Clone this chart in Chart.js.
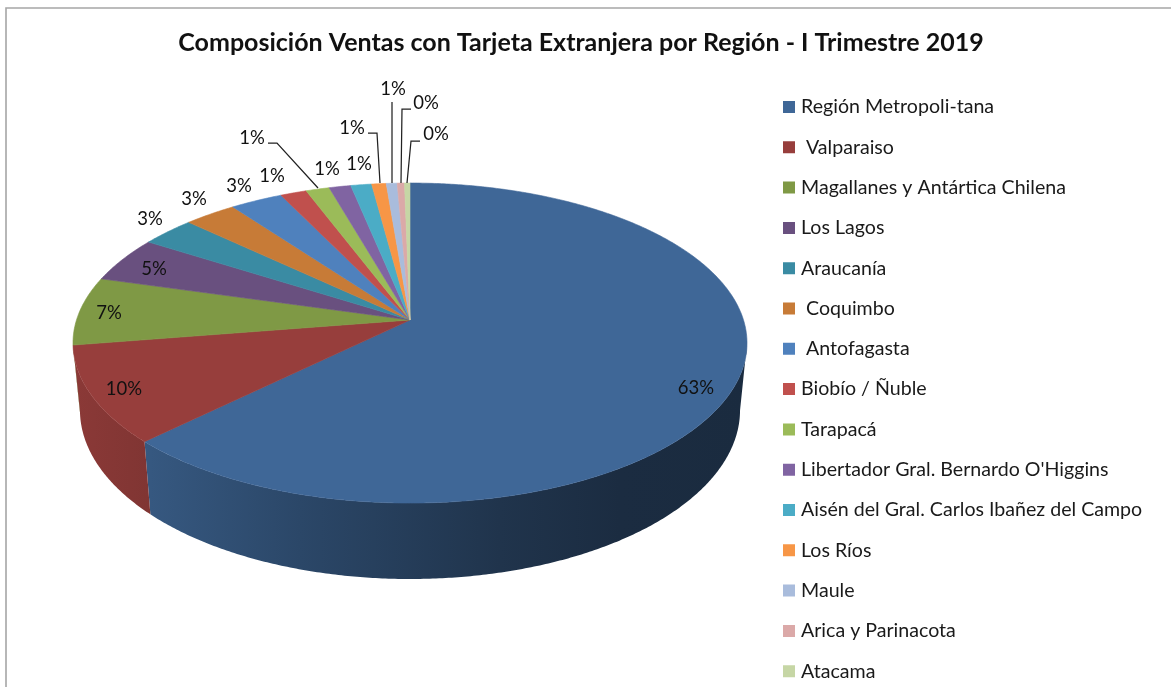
<!DOCTYPE html>
<html>
<head>
<meta charset="utf-8">
<style>html,body{margin:0;padding:0;background:#fff;overflow:hidden}canvas{display:block}</style>
<script src="https://cdn.jsdelivr.net/npm/chart.js@4"></script>
</head>
<body>
<canvas id="c" width="1171" height="687"></canvas>
<script>
const chartTitle = 'Composición Ventas con Tarjeta Extranjera por Región - I Trimestre 2019';
const regions = ['Región Metropoli-tana',' Valparaiso','Magallanes y Antártica Chilena','Los Lagos','Araucanía',' Coquimbo',' Antofagasta','Biobío / Ñuble','Tarapacá',"Libertador Gral. Bernardo O'Higgins",'Aisén del Gral. Carlos Ibañez del Campo','Los Ríos','Maule','Arica y Parinacota','Atacama'];
const shares = [62.7,9.8,6.9,4.6,3.0,2.9,2.9,1.45,1.3,1.2,1.15,0.8,0.6,0.4,0.3];
const colors = ['#3f6797','#973e3c','#7f9945','#69507f','#3a8ba3','#c77b37','#4f81bd','#c0504d','#9bbb59','#8064a2','#4bacc6','#f79646','#a9bcdc','#dba9a8','#c6d6a5'];

// Layout of the 3D projection (top face and bottom rim of the pie)
const topFace = {cx:410, cy:320, A:333.5, a:156.7, b:0.144};
const bottomRim = {cx:410, cy:386, A:326.7, a:165.6, b:0.142};
// Label anchors [text x, text y] and optional leader-line points, by slice
const labelLayout = [
 {p:[696,388]},{p:[124,389]},{p:[109,313]},{p:[154,269]},{p:[150,219]},{p:[194,199]},{p:[239,186]},{p:[272,176]},
 {p:[252,138],l:[[268,143],[277,143],[318,188]]},
 {p:[327,169]},{p:[359,164]},
 {p:[352,128],l:[[368,133],[377,133],[380,183]]},
 {p:[393,89],l:[[392,102],[392,183]]},
 {p:[426,103],l:[[411,109],[402,109],[401,183]]},
 {p:[436,134],l:[[420,141],[411,141],[407,183]]}
];
const legendBox = {left:766.1, top:76.5};
const shadeStops = [[73,.92],[150,.85],[300,.69],[500,.5],[620,.43],[748,.42]];

function project(g, th){
  const d = 1 + g.b*Math.cos(th);
  return [g.cx + g.A*Math.sin(th)/d, g.cy - g.a*Math.cos(th)/d];
}
function rgb(h){return [1,3,5].map(i=>parseInt(h.substr(i,2),16));}

const pie3d = {
  id:'pie3d',
  afterLayout(chart){
    const lg = chart.legend, w = lg.width, h = lg.height;
    lg.left = legendBox.left; lg.right = legendBox.left + w;
    lg.top = legendBox.top; lg.bottom = legendBox.top + h;
    lg.adjustHitBoxes();
  },
  beforeDraw(chart){
    const c = chart.ctx;
    c.save();
    c.strokeStyle='#a6a6a6'; c.lineWidth=1.6;
    c.beginPath(); c.moveTo(6,687); c.lineTo(6,8); c.lineTo(1171,8); c.stroke();
    c.restore();
  },
  beforeDatasetDraw(chart,args){
    const c = chart.ctx, arcs = args.meta.data;
    const toTheta = a => a + Math.PI/2;
    const wallFrom = Math.acos(-topFace.b), wallTo = 2*Math.PI - wallFrom;
    // side walls
    arcs.forEach((arc,i)=>{
      const s = Math.max(toTheta(arc.startAngle), wallFrom), e = Math.min(toTheta(arc.endAngle), wallTo);
      if(e<=s) return;
      const base = rgb(colors[i]);
      const grad = c.createLinearGradient(73,0,748,0);
      shadeStops.forEach(([x,f])=>grad.addColorStop((x-73)/675,`rgb(${base.map(v=>Math.round(v*f)).join(',')})`));
      c.beginPath();
      const n = Math.max(2,Math.ceil((e-s)*120));
      for(let k=0;k<=n;k++){const p=project(topFace,s+(e-s)*k/n); k?c.lineTo(p[0],p[1]):c.moveTo(p[0],p[1]);}
      for(let k=n;k>=0;k--){const p=project(bottomRim,s+(e-s)*k/n); c.lineTo(p[0],p[1]);}
      c.closePath(); c.fillStyle=grad; c.fill();
    });
    // top face
    arcs.forEach((arc,i)=>{
      const s = toTheta(arc.startAngle), e = toTheta(arc.endAngle);
      c.beginPath(); c.moveTo(topFace.cx,topFace.cy);
      const n = Math.max(2,Math.ceil((e-s)*120));
      for(let k=0;k<=n;k++){const p=project(topFace,s+(e-s)*k/n); c.lineTo(p[0],p[1]);}
      c.closePath();
      c.fillStyle=colors[i]; c.strokeStyle=colors[i]; c.lineWidth=0.6; c.fill(); c.stroke();
    });
    return false;
  },
  afterDatasetsDraw(chart){
    const c = chart.ctx, total = shares.reduce((a,b)=>a+b,0);
    c.save();
    c.font='18.5px Lato'; c.fillStyle='#111'; c.textAlign='center'; c.textBaseline='middle';
    shares.forEach((v,i)=>{
      const L = labelLayout[i];
      if(L.l){
        c.beginPath(); c.strokeStyle='#222'; c.lineWidth=1.25;
        L.l.forEach((p,k)=>k?c.lineTo(p[0],p[1]):c.moveTo(p[0],p[1]));
        c.stroke();
      }
      c.fillText(Math.round(v/total*100)+'%',L.p[0],L.p[1]);
    });
    c.restore();
  }
};

new Chart(document.getElementById('c'),{
  type:'pie',
  data:{labels:regions,datasets:[{data:shares,backgroundColor:colors,borderWidth:0,pointStyle:'rect'}]},
  plugins:[pie3d],
  options:{
    responsive:false, animation:false, events:[],
    layout:{padding:{left:0,right:9,top:0,bottom:0}},
    plugins:{
      tooltip:{enabled:false},
      title:{display:true,text:chartTitle,color:'#111',font:{family:'Lato',size:25,weight:'bold'},padding:{top:28,bottom:10}},
      legend:{position:'right',align:'start',maxWidth:500,
        labels:{usePointStyle:true,pointStyle:'rect',boxWidth:4.4,boxHeight:12,padding:20.7,color:'#1a1a1a',font:{family:'Lato',size:19.6}}}
    }
  }
});
</script>
</body>
</html>
